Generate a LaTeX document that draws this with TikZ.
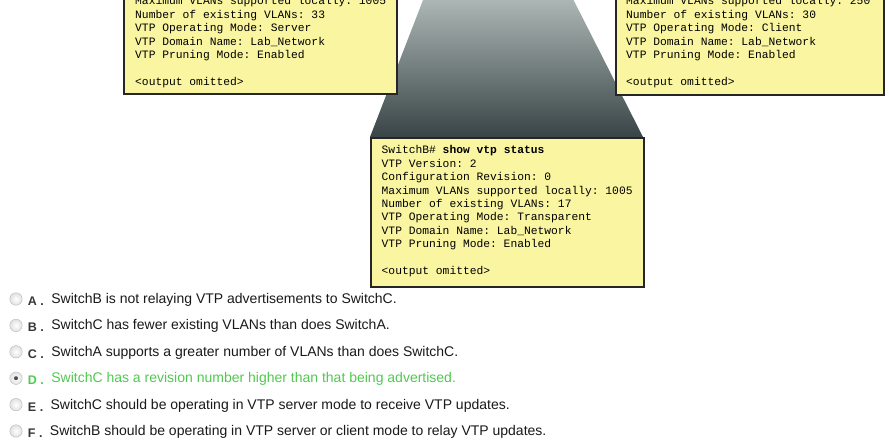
\documentclass[tikz,border=0pt]{standalone}
\usepackage{fontspec}
\setmainfont{Liberation Sans}
\setmonofont{Liberation Mono}
\usetikzlibrary{positioning}
\definecolor{NoteYellow}{RGB}{250,245,160}
\definecolor{BeamTop}{RGB}{176,186,184}
\definecolor{BeamBottom}{RGB}{56,68,70}
\definecolor{AnswerGreen}{RGB}{80,200,80}
\definecolor{LetterGray}{RGB}{55,55,55}
\definecolor{RadioGray}{RGB}{185,185,185}

\begin{document}
\begin{tikzpicture}[x=1pt, y=-1pt, node distance =13.5pt and 5.3pt,
note/.style ={ rectangle, fill=NoteYellow, draw=black!85, line width=1.8pt, inner sep=0pt},
cli/.style ={ anchor=north west, align=left, inner sep=0pt,
font=\ttfamily\fontsize{11.3}{13.4}\selectfont},
radio/.style ={ circle, draw=RadioGray, inner color=white, outer color=black!12,
minimum size=12.5pt, inner sep=0pt},
letter/.style ={ inner sep=0pt, text height=9pt, text depth=0pt,
font=\bfseries\fontsize{12.5}{12.5}\selectfont, text=LetterGray},
answer/.style ={ inner sep=0pt, font=\fontsize{14}{14}\selectfont, text=black!90}]
\useasboundingbox (0,0) rectangle (889,444);
\clip (0,0) rectangle (889,444);

% beam from the top down to SwitchB
\coordinate (BeamLeft) at (425,-5);
\coordinate (BeamRight) at (571,-5);
\coordinate (BeamFootLeft) at (370,137);
\coordinate (BeamFootRight) at (643,137);
\shade[top color=BeamTop, bottom color=BeamBottom] (BeamLeft) -- (BeamRight)
  -- (BeamFootRight) -- (BeamFootLeft) -- cycle;

% the three show vtp status outputs
\node[note, anchor=south west, minimum width=273pt, minimum height=120pt] (SwitchABox) at (123,95) {};
\node[note, anchor=south west, minimum width=268pt, minimum height=120pt] (SwitchCBox) at (615,96) {};
\node[note, anchor=north west, minimum width=273pt, minimum height=149pt] (SwitchBBox) at (BeamFootLeft) {};

\node[cli] (SwitchAText) at (135,-3.5) {Maximum VLANs supported locally: 1005\\
Number of existing VLANs: 33\\
VTP Operating Mode: Server\\
VTP Domain Name: Lab\_Network\\
VTP Pruning Mode: Enabled\\
~\\
<output omitted>};
\node[cli] (SwitchCText) at (626,-3.5) {Maximum VLANs supported locally: 250\\
Number of existing VLANs: 30\\
VTP Operating Mode: Client\\
VTP Domain Name: Lab\_Network\\
VTP Pruning Mode: Enabled\\
~\\
<output omitted>};
\node[cli] (SwitchBText) at (381.5,145.5) {SwitchB\# \textbf{show vtp status}\\
VTP Version: 2\\
Configuration Revision: 0\\
Maximum VLANs supported locally: 1005\\
Number of existing VLANs: 17\\
VTP Operating Mode: Transparent\\
VTP Domain Name: Lab\_Network\\
VTP Pruning Mode: Enabled\\
~\\
<output omitted>};

% answer choices
\node[radio] (RadioA) at (16,299) {};
\node[radio] (RadioB) [below=of RadioA] {};
\node[radio] (RadioC) [below=of RadioB] {};
\node[radio] (RadioD) [below=of RadioC] {};
\node[radio] (RadioE) [below=of RadioD] {};
\node[radio] (RadioF) [below=of RadioE] {};
\node[circle, fill=black!70, minimum size=4pt, inner sep=0pt] (RadioDot) at (RadioD) {};

\node[letter] (LetterA) [right=of RadioA, yshift=-2pt] {A .};
\node[letter] (LetterB) [right=of RadioB, yshift=-2pt] {B .};
\node[letter] (LetterC) [right=of RadioC, yshift=-2pt] {C .};
\node[letter, text=AnswerGreen] (LetterD) [right=of RadioD, yshift=-2pt] {D .};
\node[letter] (LetterE) [right=of RadioE, yshift=-2pt] {E .};
\node[letter] (LetterF) [right=of RadioF, yshift=-2pt] {F .};

\node[answer] (AnswerA) [base right=7pt of LetterA, yshift=2pt] {SwitchB is not relaying VTP advertisements to SwitchC.};
\node[answer] (AnswerB) [base right=7pt of LetterB, yshift=2pt] {SwitchC has fewer existing VLANs than does SwitchA.};
\node[answer] (AnswerC) [base right=7pt of LetterC, yshift=2pt] {SwitchA supports a greater number of VLANs than does SwitchC.};
\node[answer, text=AnswerGreen] (AnswerD) [base right=7pt of LetterD, yshift=2pt] {SwitchC has a revision number higher than that being advertised.};
\node[answer] (AnswerE) [base right=7pt of LetterE, yshift=2pt] {SwitchC should be operating in VTP server mode to receive VTP updates.};
\node[answer] (AnswerF) [base right=7pt of LetterF, yshift=2pt] {SwitchB should be operating in VTP server or client mode to relay VTP updates.};
\end{tikzpicture}
\end{document}
